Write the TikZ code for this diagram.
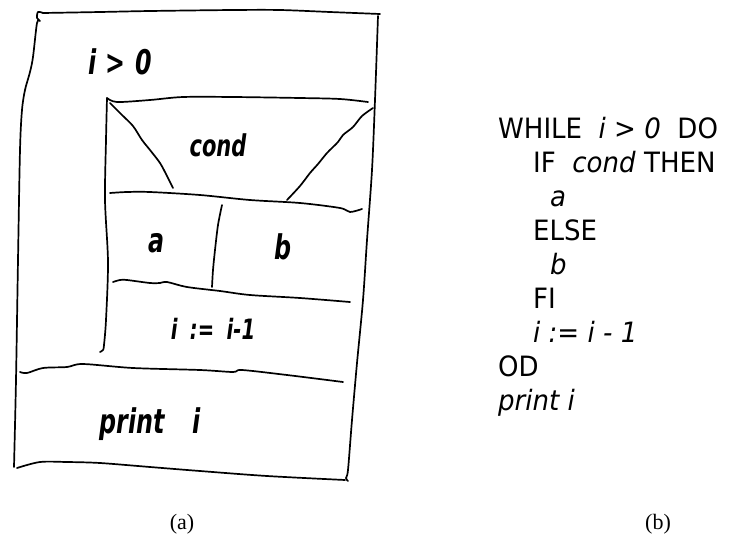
\documentclass[tikz,border=0pt]{standalone}
\usepackage{fontspec}
\setmainfont{Liberation Serif}
\newfontfamily\codefont[FakeStretch=0.93]{DejaVu Sans}
\newfontfamily\handfont[FakeStretch=0.7]{DejaVu Sans}
\usetikzlibrary{positioning}

\begin{document}
\begin{tikzpicture}[x=1pt,y=-1pt,
  sketch/.style={line width=1.7pt,line cap=round,line join=round},
  scrawl/.style={font=\handfont\bfseries\itshape\fontsize{#1}{#1}\selectfont,inner sep=0pt},
  scrawl/.default=26,
  code/.style={font=\codefont\fontsize{28}{33}\selectfont,anchor=base west,inner sep=0pt},
  caption/.style={font=\fontsize{22}{26}\selectfont,inner sep=0pt}]
\useasboundingbox (0,0) rectangle (729,536);
% (a) hand drawn structogram
\draw[sketch] plot[smooth,tension=0.5] coordinates {(43,13) (38,12) (37,18) (40,21) (37,23) (33,57) (30,72) (25,90) (22,110) (20,150) (18,260) (16,380) (14,467)};
\draw[sketch] plot[smooth,tension=0.5] coordinates {(43,13) (100,12) (150,11) (233,10) (280,10) (330,12) (380,14)};
\draw[sketch] plot[smooth,tension=0.5] coordinates {(378,16) (375,100) (372,170) (367,240) (363,300) (357,363) (352,420) (348,470) (346,478) (348,481)};
\draw[sketch] plot[smooth,tension=0.5] coordinates {(17,468) (40,462) (67,462) (100,463) (150,467) (200,471) (267,476) (345,480)};
% loop body
\draw[sketch] plot[smooth,tension=0.5] coordinates {(107,98) (106,140) (105,200) (108,262) (106,320) (104,345) (103,350) (100,352)};
\draw[sketch] plot[smooth,tension=0.5] coordinates {(107,98) (117,102) (150,100) (183,97) (233,97) (300,98) (340,99) (368,102)};
\draw[sketch] plot[smooth,tension=0.5] coordinates {(110,103) (122,115) (133,126) (142,140) (150,150) (160,163) (167,176) (173,188)};
\draw[sketch] plot[smooth,tension=0.5] coordinates {(373,108) (362,116) (353,127) (343,135) (338,142) (327,153) (318,164) (310,173) (300,186) (287,200)};
\draw[sketch] plot[smooth,tension=0.5] coordinates {(110,193) (127,192) (150,192) (200,195) (250,200) (300,203) (340,208) (350,212) (362,209)};
\draw[sketch] plot[smooth,tension=0.5] coordinates {(222,205) (218,225) (215,250) (213,270) (212,287)};
\draw[sketch] plot[smooth,tension=0.5] coordinates {(113,282) (120,280) (127,280) (150,283) (160,283) (167,282) (187,287) (220,291) (250,295) (300,298) (350,302)};
\draw[sketch] plot[smooth,tension=0.5] coordinates {(20,372) (27,373) (43,368) (67,367) (83,364) (133,368) (200,370) (233,372) (242,370) (287,375) (343,382)};
\node[scrawl=34] (loopcond) at (120,62) {i\;>\;0};
\node[scrawl=30] (cond) at (218,145) {cond};
\node[scrawl=34] (parta) at (157,243) {a};
\node[scrawl=34] (partb) at (283,247) {b};
\node[scrawl=28] (decr) at (213,329) {i\;\,:=\;\,i-1};
\node[scrawl=34] (printi) at (150,424) {print\;\; i};
% (b) pseudo code
\node[code] (while) at (498,138) {WHILE\ \ \textit{i > 0}\ \ DO};
\node[code] (if) at (533,172) {IF\ \ \textit{cond} THEN};
\node[code] (then) at (550,206) {\textit{a}};
\node[code] (else) at (533,240) {ELSE};
\node[code] (orelse) at (550,274) {\textit{b}};
\node[code] (fi) at (533,308) {FI};
\node[code] (dec) at (533,342) {\textit{i := i - 1}};
\node[code] (od) at (498,376) {OD};
\node[code] (print) at (498,410) {\textit{print i}};
\node[caption] (capa) at (182,524) {(a)};
\node[caption] (capb) at (658,524) {(b)};
\end{tikzpicture}
\end{document}
